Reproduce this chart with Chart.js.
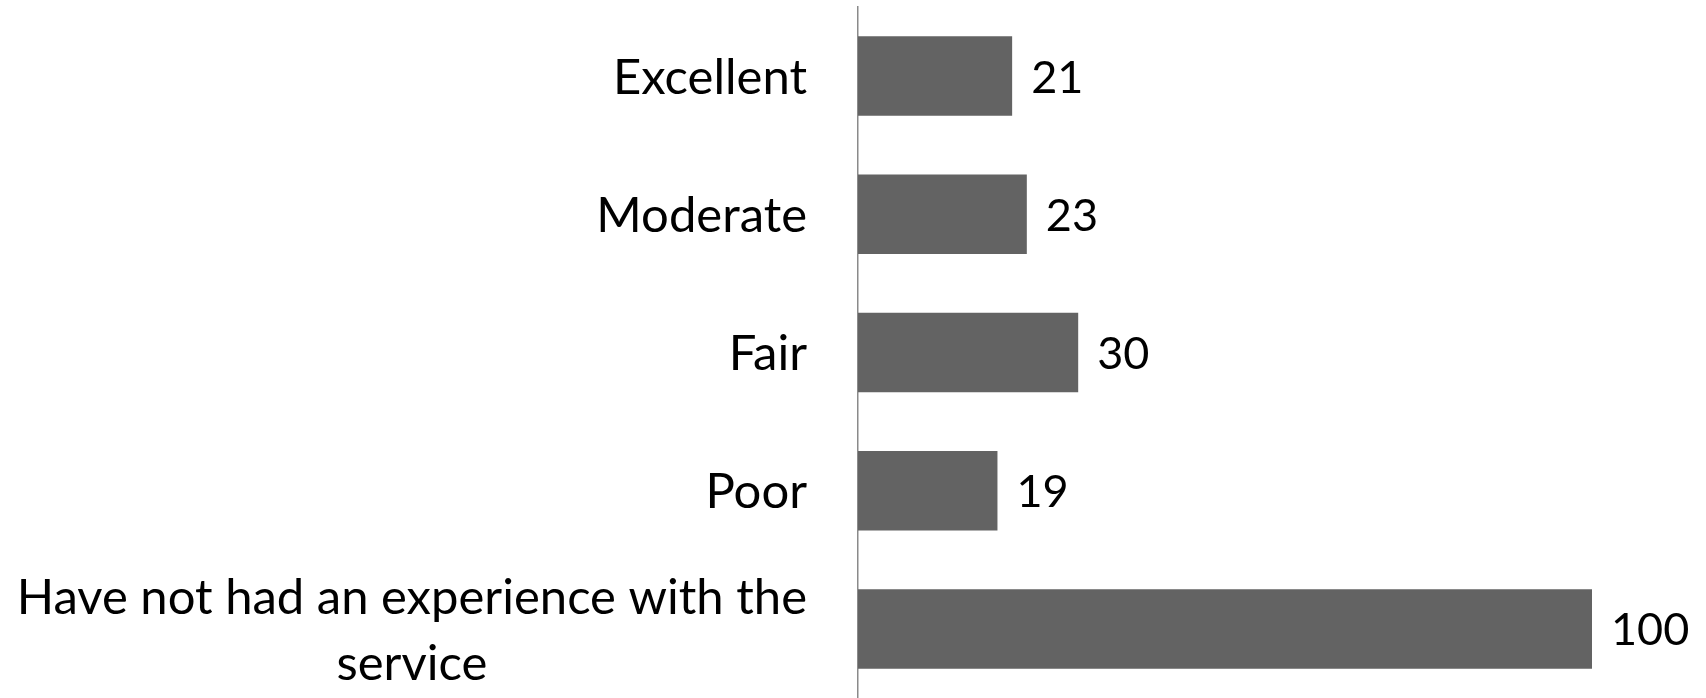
<!DOCTYPE html>
<html>
<head>
<meta charset="utf-8">
<script src="https://cdn.jsdelivr.net/npm/chart.js@4"></script>
<style>
  html, body { margin: 0; padding: 0; background: #fff; }
  #wrap { width: 1706px; height: 698px; }
</style>
</head>
<body>
<div id="wrap"><canvas id="surveyChart"></canvas></div>
<script>
// chart data
const categories = [
  "Excellent",
  "Moderate",
  "Fair",
  "Poor",
  ["Have not had an experience with the", "service"]
];
const responses = [21, 23, 30, 19, 100];

const FONT = "Lato, 'Open Sans', sans-serif";

// value labels to the right of each bar
const valueLabels = {
  id: "valueLabels",
  afterDatasetsDraw(chart) {
    const ctx = chart.ctx;
    const meta = chart.getDatasetMeta(0);
    ctx.save();
    ctx.font = "45px " + FONT;
    ctx.fillStyle = "#000";
    ctx.textAlign = "left";
    ctx.textBaseline = "middle";
    meta.data.forEach((bar, i) => {
      ctx.fillText(String(responses[i]), bar.x + 19, bar.y + 2);
    });
    ctx.restore();
  }
};

// category labels: right aligned block, lines centred inside it (like Excel)
const categoryLabels = {
  id: "categoryLabels",
  afterDraw(chart) {
    const ctx = chart.ctx;
    const yScale = chart.scales.y;
    const right = yScale.right - 51;
    const lineGap = 66;
    ctx.save();
    ctx.font = "49px " + FONT;
    ctx.fillStyle = "#000";
    ctx.textBaseline = "middle";
    categories.forEach((label, i) => {
      const lines = Array.isArray(label) ? label : [label];
      const y = yScale.getPixelForTick(i);
      const widths = lines.map(l => ctx.measureText(l).width);
      const blockW = Math.max(...widths);
      const cx = right - blockW / 2;
      const top = y - (lines.length - 1) * lineGap / 2;
      ctx.textAlign = "center";
      lines.forEach((l, j) => ctx.fillText(l, cx, top + j * lineGap + 2));
    });
    ctx.restore();
  }
};

const ctx = document.getElementById("surveyChart").getContext("2d");
new Chart(ctx, {
  type: "bar",
  data: {
    labels: categories,
    datasets: [{
      data: responses,
      backgroundColor: "#636363",
      borderWidth: 0,
      categoryPercentage: 1,
      barPercentage: 0.575
    }]
  },
  options: {
    indexAxis: "y",
    responsive: true,
    maintainAspectRatio: false,
    animation: false,
    layout: { padding: { top: 7, right: 114, bottom: 0, left: 0 } },
    plugins: { legend: { display: false }, tooltip: { enabled: false } },
    scales: {
      x: {
        display: false,
        min: 0,
        max: 100
      },
      y: {
        afterFit(scale) {
          scale.width = 858;
          scale.paddingTop = 0;
          scale.paddingBottom = 0;
        },
        grid: { display: false, drawTicks: false },
        border: { display: true, color: "#8a8a8a", width: 1.5 },
        ticks: { display: false }
      }
    }
  },
  plugins: [valueLabels, categoryLabels]
});
</script>
</body>
</html>
